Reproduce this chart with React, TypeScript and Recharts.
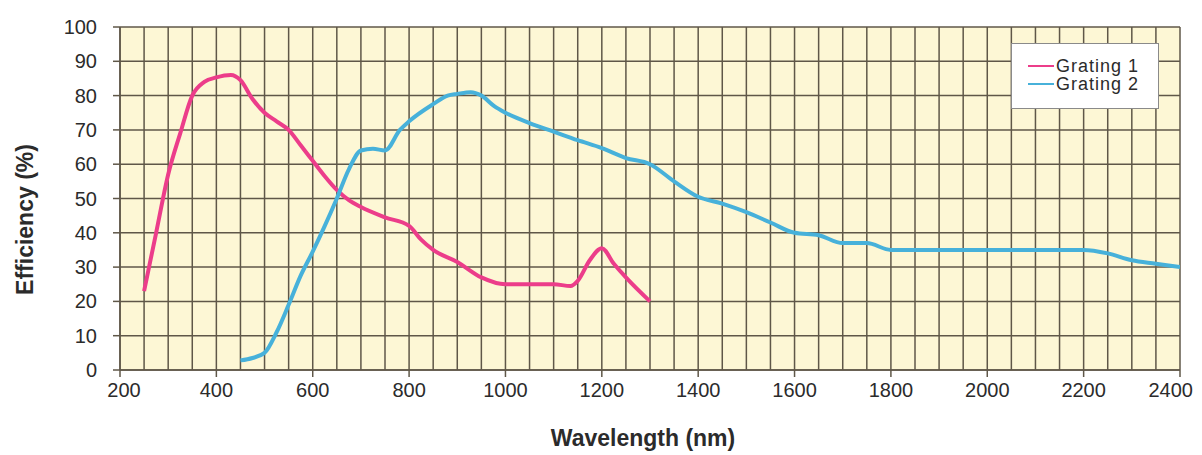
import React from 'react';
import { LineChart, Line, XAxis, YAxis, CartesianGrid, Legend, Label } from 'recharts';

// Wavelength (nm) / efficiency (%)
const grating1Wl = [250, 275, 300, 325, 350, 375, 400, 430, 450, 475, 500, 525, 550, 575, 600, 625, 650, 675, 700, 750, 800, 825, 850, 900, 950, 1000, 1050, 1100, 1135, 1150, 1175, 1200, 1225, 1250, 1300];
const grating1Eff = [23, 40, 57, 69, 80, 84, 85.3, 86, 84.5, 79, 75, 72.5, 70, 65.5, 61, 56.5, 52.5, 49.5, 47.5, 44.5, 42, 38, 35, 31.5, 27, 25, 25, 25, 24.5, 26, 32, 35.5, 31, 27, 20];

const grating2Wl = [450, 475, 500, 525, 550, 575, 600, 625, 650, 675, 700, 725, 750, 781, 800, 850, 880, 900, 928, 950, 976, 1000, 1050, 1100, 1150, 1200, 1250, 1300, 1350, 1400, 1450, 1500, 1550, 1600, 1650, 1700, 1750, 1800, 1850, 1900, 2000, 2100, 2200, 2250, 2300, 2350, 2400];
const grating2Eff = [2.8, 3.5, 5, 11, 19, 27.5, 34.5, 42, 50, 58.5, 64, 64.5, 64, 70, 72.5, 77.5, 80, 80.5, 81, 80, 77, 75, 72, 69.5, 67, 64.7, 61.8, 60, 55, 50.5, 48.5, 46, 43, 40, 39.3, 37, 37, 35, 35, 35, 35, 35, 35, 34, 32, 31, 30];

const xTicks = [200, 400, 600, 800, 1000, 1200, 1400, 1600, 1800, 2000, 2200, 2400];
const yTicks = [0, 10, 20, 30, 40, 50, 60, 70, 80, 90, 100];
const xGridValues = Array.from({ length: 45 }, (_, i) => 200 + i * 50);

const seriesNames = ['Grating 1', 'Grating 2'];
const seriesColors = ['#ec3d8a', '#47b1da'];

const grating1 = grating1Wl.map((wl, i) => ({ wl, eff: grating1Eff[i] }));
const grating2 = grating2Wl.map((wl, i) => ({ wl, eff: grating2Eff[i] }));

const GRID = '#5f5748';
const BG = '#fdf7d5';
const TEXT = '#2b2b2b';
const FONT = "'Liberation Sans', Arial, sans-serif";

const applyScale = (axis: any, v: number, lo: number, hi: number, d0: number, d1: number) => {
  const s = axis && axis.scale;
  if (typeof s === 'function') return s(v);
  if (s && typeof s.map === 'function') return s.map(v);
  return lo + ((v - d0) / (d1 - d0)) * (hi - lo);
};

const XTick = (props: any) => {
  const { x, y, payload } = props;
  const v = Number(payload.value);
  const isFirst = v === xTicks[0];
  const isLast = v === xTicks[xTicks.length - 1];
  return (
    <g>
      <line x1={x} x2={x} y1={y} y2={y + 7} stroke={GRID} strokeWidth={1.5} />
      <text
        x={isLast ? x + 13 : isFirst ? x + 4 : x}
        y={y + 20}
        textAnchor={isLast ? 'end' : 'middle'}
        dominantBaseline="central"
        fill={TEXT}
        fontSize={20}
        style={{ fontFamily: FONT }}
      >
        {v}
      </text>
    </g>
  );
};

const YTick = (props: any) => {
  const { x, y, payload } = props;
  return (
    <g>
      <line x1={x - 7} x2={x} y1={y} y2={y} stroke={GRID} strokeWidth={1.5} />
      <text x={x - 23} y={y} textAnchor="end" dominantBaseline="central" fill={TEXT} fontSize={20} style={{ fontFamily: FONT }}>
        {payload.value}
      </text>
    </g>
  );
};

const LegendBox = () => (
  <div
    style={{
      width: 148,
      height: 66,
      boxSizing: 'border-box',
      border: '1px solid #8a8a8a',
      background: '#ffffff',
      position: 'relative',
    }}
  >
    {seriesNames.map((name, i) => (
      <div key={name} style={{ position: 'absolute', left: 16, top: 22 + i * 18 - 10, height: 20, display: 'flex', alignItems: 'center' }}>
        <svg width={26} height={20} style={{ display: 'block' }}>
          <line x1={0} x2={26} y1={10} y2={10} stroke={seriesColors[i]} strokeWidth={2} />
        </svg>
        <span style={{ marginLeft: 2, fontFamily: FONT, fontSize: 18, color: TEXT, letterSpacing: 1, lineHeight: '20px' }}>
          {name}
        </span>
      </div>
    ))}
  </div>
);

export default function App() {
  return (
    <LineChart width={1194} height={447} margin={{ top: 19, right: 22, bottom: 0, left: 0 }}>
      <CartesianGrid
        fill={BG}
        stroke={GRID}
        strokeWidth={1.5}
        verticalCoordinatesGenerator={({ xAxis, offset }: any) =>
          xGridValues.map((v) => applyScale(xAxis, v, offset.left, offset.left + offset.width, 200, 2400))
        }
        horizontalCoordinatesGenerator={({ yAxis, offset }: any) =>
          yTicks.map((v) => applyScale(yAxis, v, offset.top + offset.height, offset.top, 0, 100))
        }
      />
      <XAxis
        type="number"
        dataKey="wl"
        domain={[200, 2400]}
        ticks={xTicks}
        interval={0}
        height={85}
        axisLine={{ stroke: GRID, strokeWidth: 1.5 }}
        tickLine={false}
        tickSize={0}
        tickMargin={0}
        tick={<XTick />}
        allowDataOverflow
      >
        <Label
          content={(p: any) => {
            const vb = p.viewBox || { x: 112, y: 362, width: 1060, height: 85 };
            return (
              <text
                x={vb.x + vb.width / 2 - 7}
                y={vb.y + 68}
                textAnchor="middle"
                dominantBaseline="central"
                fill={TEXT}
                fontSize={23}
                fontWeight="bold"
                style={{ fontFamily: FONT }}
              >
                Wavelength (nm)
              </text>
            );
          }}
        />
      </XAxis>
      <YAxis
        type="number"
        domain={[0, 100]}
        ticks={yTicks}
        interval={0}
        width={112}
        axisLine={{ stroke: GRID, strokeWidth: 1.5 }}
        tickLine={false}
        tickSize={0}
        tickMargin={0}
        tick={<YTick />}
        allowDataOverflow
      >
        <Label
          content={(p: any) => {
            const vb = p.viewBox || { x: 0, y: 19, width: 112, height: 343 };
            const cx = vb.x + 17;
            const cy = vb.y + vb.height / 2 + 21;
            return (
              <text
                x={cx}
                y={cy}
                transform={`rotate(-90, ${cx}, ${cy})`}
                textAnchor="middle"
                dominantBaseline="central"
                fill={TEXT}
                fontSize={23}
                fontWeight="bold"
                style={{ fontFamily: FONT }}
              >
                Efficiency (%)
              </text>
            );
          }}
        />
      </YAxis>
      <Legend
        layout="vertical"
        align="center"
        verticalAlign="middle"
        content={<LegendBox />}
        wrapperStyle={{ position: 'absolute', left: 1003, top: 35, width: 148, height: 66 }}
      />
      <Line
        data={grating1}
        dataKey="eff"
        name={seriesNames[0]}
        type="monotone"
        stroke={seriesColors[0]}
        strokeWidth={4}
        dot={false}
        activeDot={false}
        isAnimationActive={false}
      />
      <Line
        data={grating2}
        dataKey="eff"
        name={seriesNames[1]}
        type="monotone"
        stroke={seriesColors[1]}
        strokeWidth={4}
        dot={false}
        activeDot={false}
        isAnimationActive={false}
      />
    </LineChart>
  );
}
